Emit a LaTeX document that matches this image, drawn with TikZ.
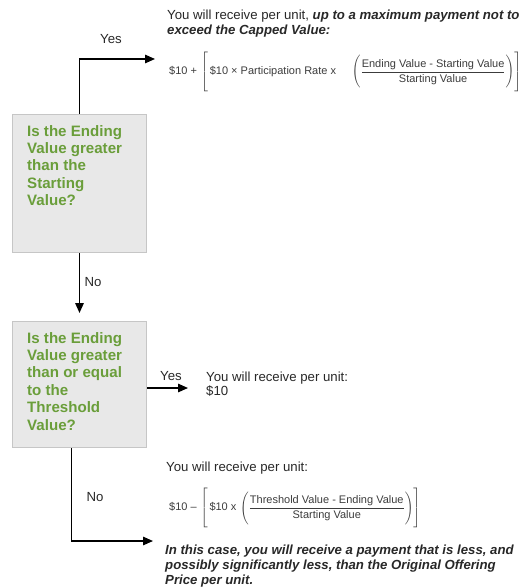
\documentclass[tikz,border=0pt]{standalone}
\usepackage{fontspec}
\setmainfont{Liberation Sans}
\usepackage{amsmath}
\usetikzlibrary{arrows.meta}
\definecolor{qgreen}{RGB}{106,158,58}
\definecolor{boxfill}{RGB}{232,232,232}
\definecolor{boxline}{RGB}{198,198,198}
\definecolor{txt}{RGB}{40,40,40}
\definecolor{ftxt}{RGB}{60,60,60}
\begin{document}
\begin{tikzpicture}[x=1pt,y=-1pt,
  qbox/.style={draw=boxline, fill=boxfill, line width=1pt, minimum width=134pt, inner sep=0pt, anchor=north west},
  qtext/.style={text=qgreen, font=\fontsize{15.1}{17.4}\selectfont\bfseries, align=left, anchor=north west, inner sep=0pt},
  body/.style={text=txt, font=\fontsize{13.2}{15}\selectfont, align=left, anchor=west, inner sep=0pt},
  bodybi/.style={text=txt, font=\fontsize{13.2}{14.6}\selectfont\bfseries\itshape, align=left, anchor=west, inner sep=0pt},
  formula/.style={text=ftxt, font=\fontsize{11}{12}\selectfont, anchor=west, inner sep=0pt},
  lbl/.style={text=txt, font=\fontsize{13.2}{15}\selectfont, inner sep=0pt},
  conn/.style={line width=1.5pt, -{Triangle[length=10pt,width=8.5pt]}}
]
\useasboundingbox (0,0) rectangle (525,588);

% question boxes
\node[qbox, minimum height=138pt] (q1) at (12,114) {};
\node[qtext] (q1t) at (27,125) {Is the Ending\\Value greater\\than the\\Starting\\Value?};
\node[qbox, minimum height=126pt] (q2) at (12,321) {};
\node[qtext] (q2t) at (27,332) {Is the Ending\\Value greater\\than or equal\\to the\\Threshold\\Value?};

% connectors
\coordinate (y1) at (155,59);
\draw[conn] (q1.north) |- (y1);
\draw[conn] (q1.south) -- ([yshift=8pt]q2.north);
\coordinate (y2) at (188,388);
\draw[conn] (q2.east |- y2) -- (y2);
\coordinate (n2) at (153,541);
\draw[conn] ([xshift=-8pt]q2.south) |- (n2);

% labels
\node[lbl] (yes1) at (111,39) {Yes};
\node[lbl] (no1) at (93,282) {No};
\node[lbl] (yes2) at (171,376) {Yes};
\node[lbl] (no2) at (95,497) {No};

% texts
\node[body] (t1) at (167,23.5) {You will receive per unit, \textbf{\textit{up to a maximum payment not to}}\\\textbf{\textit{exceed the Capped Value:}}};
\node[formula] (f1) at (169,72) {$\text{\$10 +}\,\left[\rule[-17pt]{0pt}{38pt}\,\text{\$10 × Participation Rate x}\hspace{14pt}\left(\rule[-15pt]{0pt}{34pt}\dfrac{\text{Ending Value - Starting Value}}{\text{Starting Value}}\right)\right]$};

\node[body] (t2) at (206,384) {You will receive per unit:\\[-1.5pt]\$10};

\node[body] (t3) at (166,468) {You will receive per unit:};
\node[formula] (f2) at (169,508) {$\text{\$10 –}\,\left[\rule[-17pt]{0pt}{38pt}\,\text{\$10 x}\,\left(\rule[-15pt]{0pt}{34pt}\dfrac{\text{Threshold Value - Ending Value}}{\text{Starting Value}}\right)\right]$};

\node[bodybi] (t4) at (165,566) {In this case, you will receive a payment that is less, and\\possibly significantly less, than the Original Offering\\Price per unit.};
\end{tikzpicture}
\end{document}
